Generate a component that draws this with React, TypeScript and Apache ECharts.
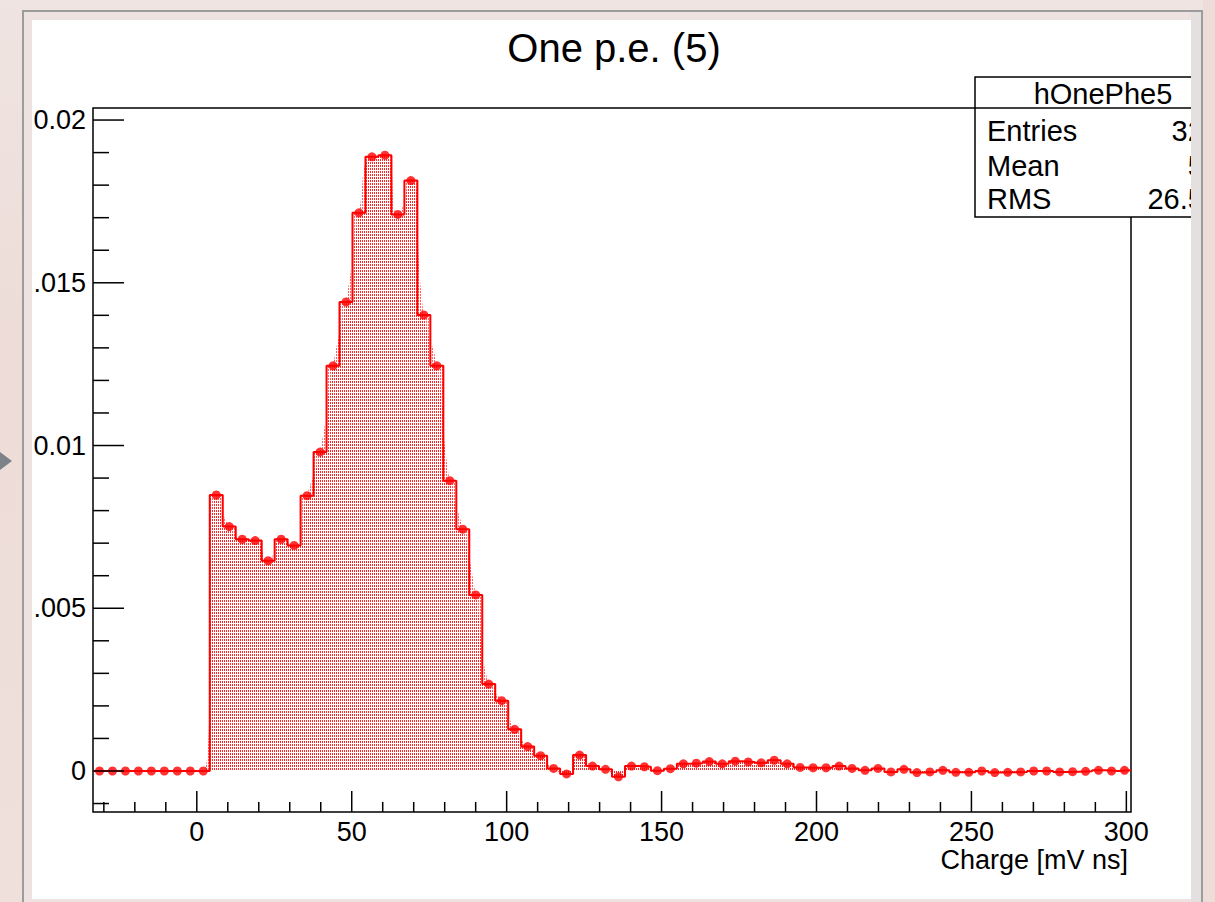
import * as echarts from 'echarts';
import React, { useEffect, useRef } from 'react';

// histogram hOnePhe5 : 80 bins from -33.5 to 301.5
const binLow = -33.5;
const binHigh = 301.5;
const binValues = [
  0, 0, 0, 0, 0, 0, 0, 0, 0, 0.00848,
  0.00751, 0.00712, 0.00708, 0.00646, 0.00712, 0.00693, 0.00846, 0.0098, 0.01245, 0.01441,
  0.01715, 0.01887, 0.01892, 0.0171, 0.01814, 0.01401, 0.01245, 0.00892, 0.00743, 0.00541,
  0.00267, 0.00216, 0.00128, 0.00075, 0.00047, 0.00008, -0.00009, 0.00049, 0.00015, 0.00005,
  -0.00018, 0.00015, 0.00013, 0.00001, 0.00007, 0.00022, 0.00024, 0.00029, 0.00022, 0.0003,
  0.00028, 0.00025, 0.00033, 0.00022, 0.00011, 0.0001, 0.0001, 0.00015, 0.00008, 0.00002,
  0.00008, -0.00003, 0.00005, -0.00005, -0.00003, 0.00002, -0.00004, -0.00004, 0, -0.00005,
  -0.00004, -0.00003, 0, 0, -0.00003, -0.00002, -0.00001, 0.00002, 0, 0.00002,
];

const yMin = -0.00126;
const yMax = 0.02037;

const xTickValues = [
  -30, -20, -10, 0, 10, 20, 30, 40, 50, 60, 70, 80, 90, 100, 110, 120, 130, 140, 150,
  160, 170, 180, 190, 200, 210, 220, 230, 240, 250, 260, 270, 280, 290, 300,
];
const xMajorTicks = [0, 50, 100, 150, 200, 250, 300];
const xTickLabels = ['0', '50', '100', '150', '200', '250', '300'];

const yTickValues = [
  -0.001, 0, 0.001, 0.002, 0.003, 0.004, 0.005, 0.006, 0.007, 0.008, 0.009, 0.01,
  0.011, 0.012, 0.013, 0.014, 0.015, 0.016, 0.017, 0.018, 0.019, 0.02,
];
const yMajorIndex = [1, 6, 11, 16, 21];
const yTickLabels = ['0', '.005', '0.01', '.015', '0.02'];

const statNames = ['Entries', 'Mean', 'RMS'];
const statValues = ['328', '55', '26.53'];

const FONT = '"Liberation Sans", Arial, Helvetica, sans-serif';
const RED = '#ff0000';

const App: React.FC = () => {
  const chartRef = useRef<HTMLDivElement>(null);

  useEffect(() => {
    if (!chartRef.current) return;
    const instance = echarts.init(chartRef.current, undefined, { renderer: 'svg' });

    // ROOT style dotted fill
    const tile = document.createElement('canvas');
    tile.width = 2;
    tile.height = 3;
    const ctx = tile.getContext('2d');
    if (ctx) {
      ctx.fillStyle = 'rgba(255,0,0,0.62)';
      ctx.fillRect(0, 0, 1, 2);
    }
    const dotFill: any = { image: tile, repeat: 'repeat', imageWidth: 2, imageHeight: 3 };

    const binWidth = (binHigh - binLow) / binValues.length;
    const centers = binValues.map((v, i) => [binLow + binWidth * (i + 0.5), v]);
    const steps = binValues.map((v, i) => [binLow + binWidth * i, v]);
    steps.push([binHigh, binValues[binValues.length - 1]]);

    const option: echarts.EChartsOption = {
      animation: false,
      grid: {
        left: 93,
        top: 108,
        right: 84,
        bottom: 90,
        show: true,
        borderColor: '#000',
        borderWidth: 1.5,
        backgroundColor: 'transparent',
      },
      xAxis: { type: 'value', min: binLow, max: binHigh, show: false },
      yAxis: { type: 'value', min: yMin, max: yMax, show: false },
      graphic: [
        {
          type: 'text',
          z: 100,
          x: 614,
          y: 48,
          style: {
            text: 'One p.e. (5)',
            fill: '#000',
            fontSize: 40,
            fontFamily: FONT,
            align: 'center',
            verticalAlign: 'middle',
          },
        },
        {
          type: 'text',
          z: 100,
          x: 1128,
          y: 860,
          style: {
            text: 'Charge [mV ns]',
            fill: '#000',
            fontSize: 27,
            fontFamily: FONT,
            align: 'right',
            verticalAlign: 'middle',
          },
        },
        {
          type: 'rect',
          z: 100,
          shape: { x: 975, y: 77, width: 260, height: 140 },
          style: { fill: '#fff', stroke: '#000', lineWidth: 1.5 },
        },
        {
          type: 'line',
          z: 101,
          shape: { x1: 975, y1: 108, x2: 1235, y2: 108 },
          style: { stroke: '#000', lineWidth: 1.5 },
        },
        {
          type: 'text',
          z: 101,
          x: 1103,
          y: 94,
          style: {
            text: 'hOnePhe5',
            fill: '#000',
            fontSize: 29,
            fontFamily: FONT,
            align: 'center',
            verticalAlign: 'middle',
          },
        },
        ...statNames.map((name, i) => ({
          type: 'text' as const,
          z: 101,
          x: 987,
          y: [131, 166, 199][i],
          style: {
            text: name,
            fill: '#000',
            fontSize: 29,
            fontFamily: FONT,
            align: 'left' as const,
            verticalAlign: 'middle' as const,
          },
        })),
        ...statValues.map((val, i) => ({
          type: 'text' as const,
          z: 101,
          x: 1220,
          y: [131, 166, 199][i],
          style: {
            text: val,
            fill: '#000',
            fontSize: 29,
            fontFamily: FONT,
            align: 'right' as const,
            verticalAlign: 'middle' as const,
          },
        })),
      ],
      series: [
        {
          // smooth fill through bin centres
          type: 'line',
          data: centers,
          smooth: 0.6,
          symbol: 'none',
          lineStyle: { width: 0, opacity: 0 },
          areaStyle: { color: dotFill, origin: 0, opacity: 1 },
          z: 1,
        },
        {
          type: 'line',
          data: steps,
          step: 'end',
          symbol: 'none',
          lineStyle: { color: RED, width: 2 },
          areaStyle: { color: dotFill, origin: 0, opacity: 1 },
          z: 2,
        },
        {
          type: 'scatter',
          data: centers,
          symbol: 'circle',
          symbolSize: 9,
          itemStyle: { color: RED },
          z: 3,
        },
        {
          type: 'custom',
          z: 5,
          data: xTickValues.map((v) => [v, yMin]),
          renderItem: (params: any, api: any) => {
            const v = xTickValues[params.dataIndex];
            const p = api.coord([v, yMin]);
            const major = xMajorTicks.indexOf(v);
            const len = major >= 0 ? 21 : 10;
            const children: any[] = [
              {
                type: 'line',
                shape: { x1: p[0], y1: p[1], x2: p[0], y2: p[1] - len },
                style: { stroke: '#000', lineWidth: 1.5 },
              },
            ];
            if (major >= 0) {
              children.push({
                type: 'text',
                x: p[0],
                y: p[1] + 20,
                style: {
                  text: xTickLabels[major],
                  fill: '#000',
                  fontSize: 27,
                  fontFamily: FONT,
                  align: 'center',
                  verticalAlign: 'middle',
                },
              });
            }
            return { type: 'group', children };
          },
        },
        {
          type: 'custom',
          z: 5,
          data: yTickValues.map((v) => [binLow, v]),
          renderItem: (params: any, api: any) => {
            const v = yTickValues[params.dataIndex];
            const p = api.coord([binLow, v]);
            const major = yMajorIndex.indexOf(params.dataIndex);
            const len = major >= 0 ? 31 : 16;
            const children: any[] = [
              {
                type: 'line',
                shape: { x1: p[0], y1: p[1], x2: p[0] + len, y2: p[1] },
                style: { stroke: '#000', lineWidth: 1.5 },
              },
            ];
            if (major >= 0) {
              children.push({
                type: 'text',
                x: p[0] - 7,
                y: p[1],
                style: {
                  text: yTickLabels[major],
                  fill: '#000',
                  fontSize: 27,
                  fontFamily: FONT,
                  align: 'right',
                  verticalAlign: 'middle',
                },
              });
            }
            return { type: 'group', children };
          },
        },
      ],
    };

    instance.setOption(option);
    return () => {
      instance.dispose();
    };
  }, []);

  return (
    <div
      style={{
        position: 'fixed',
        left: 0,
        top: 0,
        width: 1215,
        height: 902,
        overflow: 'hidden',
        background: 'linear-gradient(180deg, #efe4e1 0%, #eddcd7 40%, #efe0dc 100%)',
      }}
    >
      {/* window frame */}
      <div
        style={{
          position: 'absolute',
          left: 22,
          top: 10,
          width: 1177,
          height: 900,
          border: '2px solid #9c9c9c',
          background: '#ede2df',
        }}
      />
      <div
        style={{ position: 'absolute', left: 32, top: 20, width: 1159, height: 879, background: '#fff' }}
      />
      {/* little arrow at the left edge */}
      <div
        style={{
          position: 'absolute',
          left: 0,
          top: 452,
          width: 0,
          height: 0,
          borderTop: '9px solid transparent',
          borderBottom: '9px solid transparent',
          borderLeft: '12px solid #7b8388',
        }}
      />
      <div
        ref={chartRef}
        style={{ position: 'absolute', left: 0, top: 0, width: 1215, height: 902, zIndex: 1 }}
      />
      {/* right border drawn over the clipped stats box */}
      <div
        style={{
          position: 'absolute',
          left: 1191,
          top: 12,
          width: 10,
          height: 890,
          background: '#e4e0df',
          zIndex: 2,
        }}
      />
      <div
        style={{
          position: 'absolute',
          left: 1201,
          top: 10,
          width: 2,
          height: 892,
          background: '#9c9c9c',
          zIndex: 2,
        }}
      />
      <div
        style={{
          position: 'absolute',
          left: 1203,
          top: 0,
          width: 12,
          height: 902,
          background: '#eddcd7',
          zIndex: 2,
        }}
      />
    </div>
  );
};

export default App;
